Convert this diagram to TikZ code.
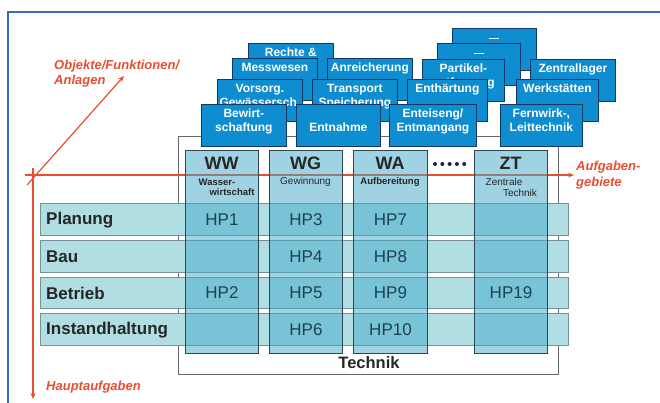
\documentclass[tikz,border=0pt]{standalone}
\usepackage{fontspec}
\setmainfont{Liberation Sans}
\usetikzlibrary{arrows.meta}
\definecolor{frameblue}{RGB}{50,110,200}
\definecolor{axred}{RGB}{232,78,48}
\definecolor{boxblue}{RGB}{14,142,208}
\definecolor{boxedge}{RGB}{20,55,100}
\definecolor{colfill}{RGB}{65,169,201}
\definecolor{coledge}{RGB}{45,70,85}
\definecolor{rowfill}{RGB}{176,222,226}
\definecolor{rowedge}{RGB}{120,145,150}
\definecolor{hptext}{RGB}{30,65,85}
\definecolor{techedge}{RGB}{105,105,105}
\definecolor{dotcol}{RGB}{20,40,80}
\tikzset{
 fbox/.style={draw=boxedge, fill=boxblue, line width=0.8pt, text=white, inner sep=0pt, minimum height=42pt, anchor=north west, font=\bfseries\fontsize{12}{14}\selectfont},
 rowbox/.style={draw=rowedge, fill=rowfill, line width=0.6pt, inner sep=0pt, anchor=north west, minimum width=528pt},
 colbox/.style={draw=coledge, fill=colfill, fill opacity=0.5, line width=1pt, inner sep=0pt, anchor=north west, minimum width=73pt, minimum height=203pt},
 rowlab/.style={anchor=west, inner sep=0pt, text=black!85, font=\bfseries\fontsize{17}{19}\selectfont},
 hplab/.style={inner sep=0pt, text=hptext, font=\fontsize{17}{19}\selectfont},
 colhead/.style={inner sep=0pt, text=black!85, font=\bfseries\fontsize{18}{20}\selectfont},
 colsub/.style={inner sep=0pt, text=black!85, font=\fontsize{10}{11}\selectfont},
 redlab/.style={inner sep=0pt, text=axred, anchor=west, font=\bfseries\itshape\fontsize{13}{15}\selectfont},
 axis/.style={draw=axred, line width=1.2pt},
}
\newcommand{\funcbox}[5]{\node[fbox, minimum width=#4pt] (#1) at (#2,#3) {\parbox[c][42pt][t]{#4pt}{\centering\rule{0pt}{13pt}#5}};}
\begin{document}
\begin{tikzpicture}[x=1pt,y=-1pt]
\useasboundingbox (0,0) rectangle (660,403);
% frame
\draw[frameblue, line width=1.5pt] (8,403) -- (8,12) -- (660,12);
% Technik box
\node[draw=techedge, fill=white, line width=1.2pt, minimum width=380pt, minimum height=238pt, anchor=north west, inner sep=0pt] (tech) at (178,136) {};
% function boxes, back to front
\funcbox{fTopB}{452}{28}{84}{}
\funcbox{fRecht}{248}{43}{85}{Rechte \&}
\funcbox{fTopA}{437}{43}{83}{}
\funcbox{fMess}{232}{58}{85}{Messwesen}
\funcbox{fAnr}{327}{58}{85}{Anreicherung}
\funcbox{fPart}{422}{59}{82}{Partikel-\\entfernung}
\funcbox{fZent}{530}{59}{85}{Zentrallager}
\funcbox{fVors}{217}{79}{85}{Vorsorg.\\Gewässersch.}
\funcbox{fTrans}{312}{79}{85}{Transport\\Speicherung}
\funcbox{fEnth}{407}{79}{80}{Enthärtung}
\funcbox{fWerk}{516}{79}{82}{Werkstätten}
\funcbox{fBew}{201}{104}{85}{Bewirt-\\schaftung}
\funcbox{fEntn}{296}{104}{84}{\rule{0pt}{27pt}Entnahme}
\funcbox{fEnteis}{389}{104}{87}{Enteiseng/\\Entmangang}
\funcbox{fFern}{500}{104}{82}{Fernwirk-,\\Leittechnik}
\draw[white, line width=1pt] ([xshift=-5pt,yshift=-11pt]fTopB.north) -- ([xshift=5pt,yshift=-11pt]fTopB.north);
\draw[white, line width=1pt] ([xshift=-5pt,yshift=-11pt]fTopA.north) -- ([xshift=5pt,yshift=-11pt]fTopA.north);
% axes
\coordinate (hS) at (25,175);
\coordinate (hE) at (574,175);
\coordinate (vS) at (33,168);
\coordinate (vE) at (33,399);
\coordinate (dS) at (27,185);
\coordinate (dE) at (124,76);
\draw[axis,-{Stealth[length=6pt,width=5pt]}] (hS) -- (hE);
\draw[axis,-{Stealth[length=6pt,width=5pt]}] (vS) -- (vE);
\draw[axis,-{Stealth[length=6pt,width=5pt]}] (dS) -- (dE);
% rows
\node[rowbox, minimum height=32pt] (rPlan) at (40,203) {};
\node[rowbox, minimum height=32pt] (rBau) at (40,240) {};
\node[rowbox, minimum height=31pt] (rBetr) at (40,277) {};
\node[rowbox, minimum height=32pt] (rInst) at (40,313) {};
% columns
\node[colbox] (cWW) at (185,150) {};
\node[colbox] (cWG) at (269,150) {};
\node[colbox, minimum width=74pt] (cWA) at (353,150) {};
\node[colbox] (cZT) at (474,150) {};
% dots
\foreach \i in {0,...,4} \fill[dotcol] (435+\i*7.3,164) circle (2pt);
% column headers
\node[colhead] (hWW) at (221.5,163) {WW};
\node[colhead] (hWG) at (305.5,163) {WG};
\node[colhead] (hWA) at (390,163) {WA};
\node[colhead] (hZT) at (510.5,163) {ZT};
\node[colsub, font=\bfseries\fontsize{9.5}{11}\selectfont] (sWW1) at (217,182) {Wasser-};
\node[colsub, font=\bfseries\fontsize{9.5}{11}\selectfont] (sWW2) at (232,192) {wirtschaft};
\node[colsub] (sWG) at (305.5,182) {Gewinnung};
\node[colsub, font=\bfseries\fontsize{9.5}{11}\selectfont] (sWA) at (390,182) {Aufbereitung};
\node[colsub] (sZT1) at (504,182) {Zentrale};
\node[colsub] (sZT2) at (520,193) {Technik};
% row labels
\node[rowlab] (lPlan) at (46,220) {Planung};
\node[rowlab] (lBau) at (46,257) {Bau};
\node[rowlab] (lBetr) at (46,293.5) {Betrieb};
\node[rowlab] (lInst) at (46,330) {Instandhaltung};
% HP labels
\node[hplab] at (cWW.center |- rPlan.center) (hp1) {HP1};
\node[hplab] at (cWW.center |- rBetr.center) (hp2) {HP2};
\node[hplab] at (cWG.center |- rPlan.center) (hp3) {HP3};
\node[hplab] at (cWG.center |- rBau.center) (hp4) {HP4};
\node[hplab] at (cWG.center |- rBetr.center) (hp5) {HP5};
\node[hplab] at (cWG.center |- rInst.center) (hp6) {HP6};
\node[hplab] at (cWA.center |- rPlan.center) (hp7) {HP7};
\node[hplab] at (cWA.center |- rBau.center) (hp8) {HP8};
\node[hplab] at (cWA.center |- rBetr.center) (hp9) {HP9};
\node[hplab] at (cWA.center |- rInst.center) (hp10) {HP10};
\node[hplab] at (cZT.center |- rBetr.center) (hp19) {HP19};
% Technik label
\node[inner sep=0pt, text=black!85, font=\bfseries\fontsize{16.5}{18}\selectfont] (lTech) at (369,363) {Technik};
% red labels
\node[redlab] (lObj1) at (54,66) {Objekte/Funktionen/};
\node[redlab] (lObj2) at (54,81) {Anlagen};
\node[redlab] (lAuf1) at (576,167) {Aufgaben-};
\node[redlab] (lAuf2) at (576,183) {gebiete};
\node[redlab] (lHaupt) at (46,387) {Hauptaufgaben};
\end{tikzpicture}
\end{document}
